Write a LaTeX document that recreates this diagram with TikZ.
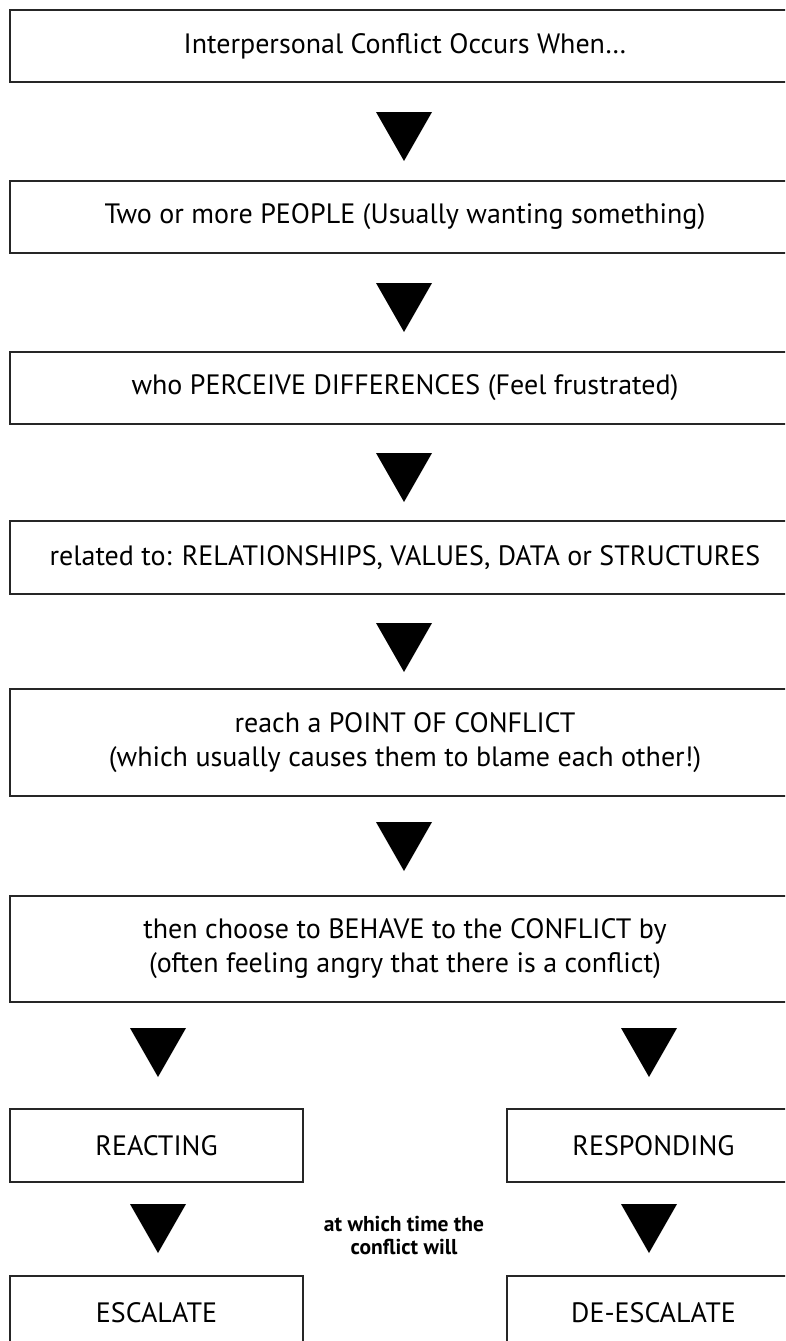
\documentclass[tikz,border=0pt]{standalone}
\usepackage{fontspec}
\setmainfont{PT Sans}
\newcommand\downtri[2]{\fill[black] (#1-28,#2) -- (#1+28,#2) -- (#1,#2+49) -- cycle;}
\begin{document}
\begin{tikzpicture}[x=1pt,y=-1pt,
  box/.style={draw=black!85, line width=1.3pt, inner sep=0pt, align=center,
    font=\fontsize{28}{34}\selectfont},
  wide/.style={box, minimum width=790pt},
  half/.style={box, minimum width=293pt},
  midlbl/.style={align=center, inner sep=0pt, font=\bfseries\fontsize{21.5}{23}\selectfont}]
\useasboundingbox (0,0) rectangle (785,1341);
\clip (0,0) rectangle (785,1341);
\node[wide, minimum height=72pt] (b1) at (405,46) {Interpersonal Conflict Occurs When…};
\downtri{404}{112}
\node[wide, minimum height=72pt] (b2) at (405,217) {Two or more PEOPLE (Usually wanting something)};
\downtri{404}{283}
\node[wide, minimum height=72pt] (b3) at (405,388) {who PERCEIVE DIFFERENCES (Feel frustrated)};
\downtri{404}{453}
\node[wide, minimum height=73pt] (b4) at (405,557.5) {related to: RELATIONSHIPS, VALUES, DATA or STRUCTURES};
\downtri{404}{623}
\node[wide, minimum height=107pt] (b5) at (405,742.5) {reach a POINT OF CONFLICT\\(which usually causes them to blame each other!)};
\downtri{404}{822}
\node[wide, minimum height=106pt] (b6) at (405,949) {then choose to BEHAVE to the CONFLICT by\\(often feeling angry that there is a conflict)};
\downtri{158}{1028}
\downtri{649}{1028}
\node[half, minimum height=73pt] (react) at (156.5,1145.5) {REACTING};
\node[half, minimum height=73pt] (resp) at (653.5,1145.5) {RESPONDING};
\downtri{158}{1204}
\downtri{649}{1204}
\node[midlbl] (mid) at (404,1235) {at which time the\\conflict will};
\node[half, minimum height=73pt] (esc) at (156.5,1312.5) {ESCALATE};
\node[half, minimum height=73pt] (desc) at (653.5,1312.5) {DE-ESCALATE};
\end{tikzpicture}
\end{document}
